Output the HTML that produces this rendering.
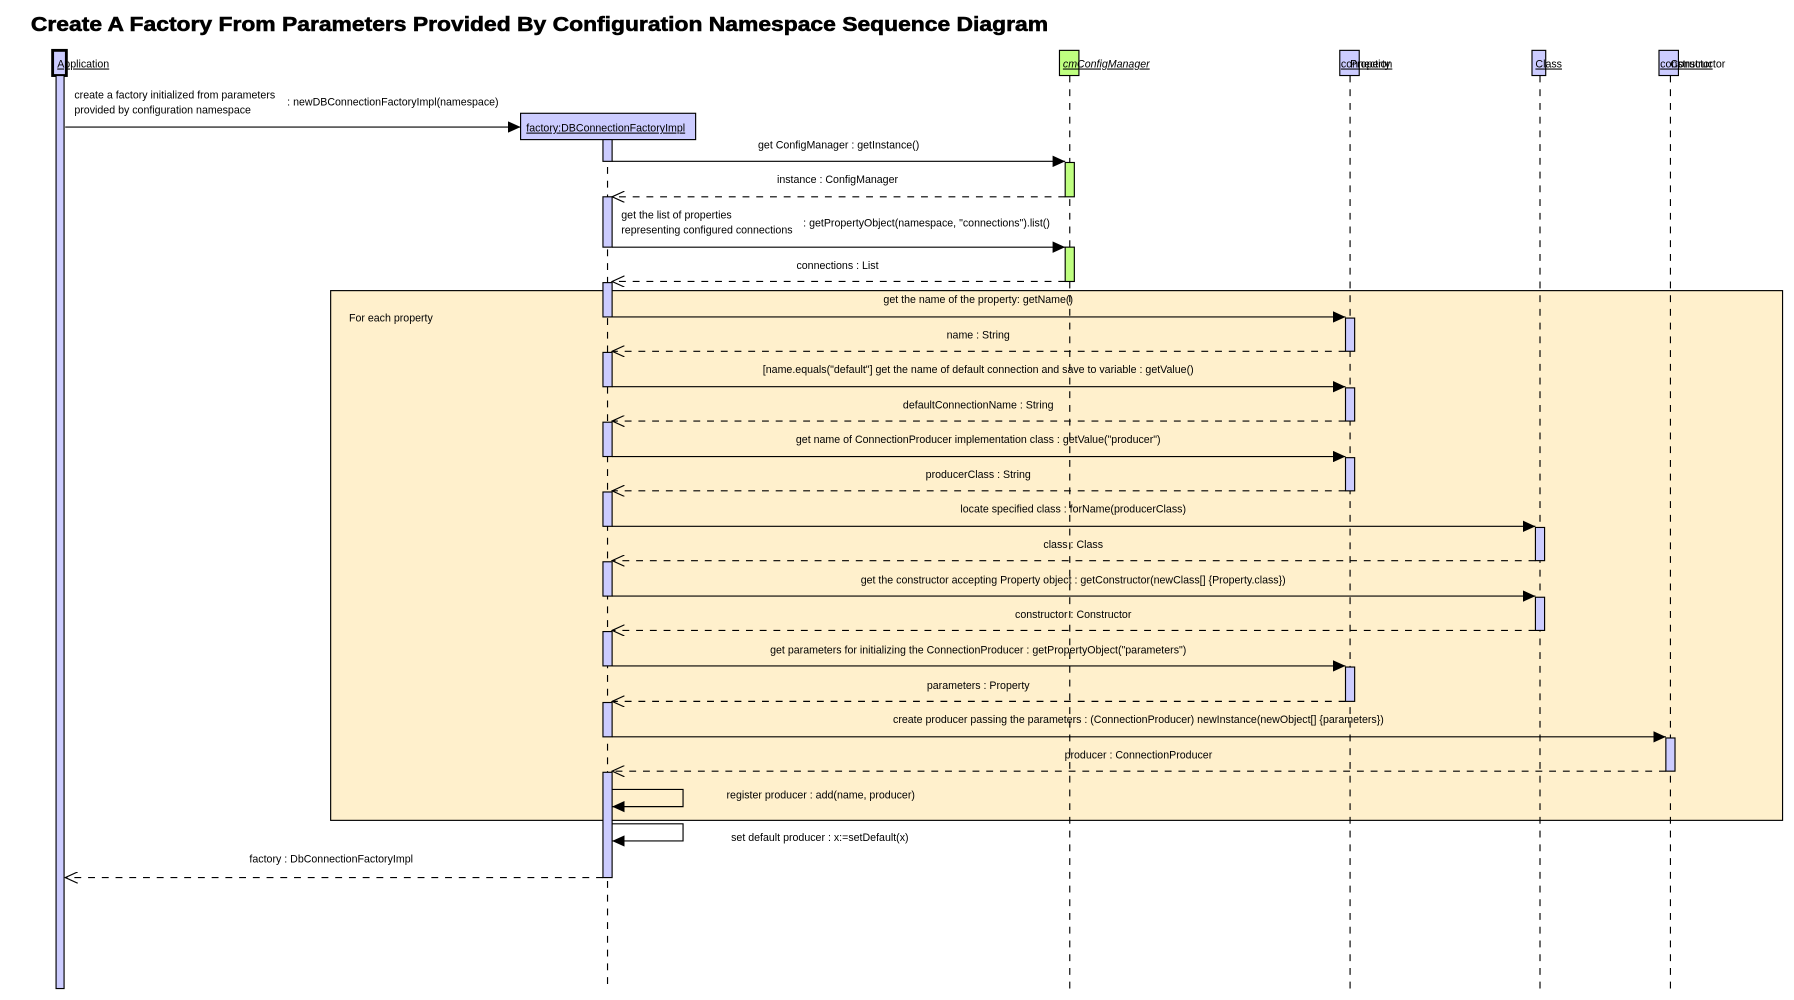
<!DOCTYPE html>
<html><head><meta charset="utf-8"><style>
html,body{margin:0;padding:0;background:#fff;}
svg{display:block}
text{font-family:"Liberation Sans",sans-serif;font-size:9.3px;fill:#000}
</style></head><body>
<svg width="1794" height="1000" viewBox="0 0 1568 874" xmlns="http://www.w3.org/2000/svg">
<defs>
<marker id="f" markerWidth="12" markerHeight="10" refX="11" refY="5" orient="auto" markerUnits="userSpaceOnUse"><path d="M0,0 L11,5 L0,10 Z" fill="#000"/></marker>
<marker id="o" markerWidth="12" markerHeight="10" refX="11" refY="5" orient="auto" markerUnits="userSpaceOnUse"><path d="M0,0 L11,5 L0,10" fill="none" stroke="#000"/></marker>
</defs>
<text x="27" y="27" textLength="889" lengthAdjust="spacingAndGlyphs" style="font-size:18px;font-weight:bold;font-family:'Liberation Sans',sans-serif;stroke:#000;stroke-width:0.5">Create A Factory From Parameters Provided By Configuration Namespace Sequence Diagram</text>

<!-- loop frame -->
<rect x="289" y="254" width="1269" height="463" fill="#fff0cc" stroke="#000" stroke-width="1"/>
<text x="305" y="281">For each property</text>

<!-- lifelines -->
<g stroke="#000" stroke-dasharray="6,6" stroke-width="1">
<line x1="531" y1="122" x2="531" y2="864"/>
<line x1="935" y1="66" x2="935" y2="864"/>
<line x1="1180" y1="66" x2="1180" y2="864"/>
<line x1="1346" y1="66" x2="1346" y2="864"/>
<line x1="1460" y1="66" x2="1460" y2="864"/>
</g>

<!-- heads -->
<rect x="46" y="44" width="12" height="22" fill="#ccccff" stroke="#000" stroke-width="2.5"/>
<rect x="49" y="66" width="7" height="798" fill="#ccccff" stroke="#000"/>
<text x="50" y="59" text-decoration="underline">Application</text>
<rect x="926" y="44" width="17" height="22" fill="#bfff80" stroke="#000"/>
<text x="929" y="59" text-decoration="underline" font-style="italic">cmConfigManager</text>
<rect x="1171" y="44" width="17" height="22" fill="#ccccff" stroke="#000"/>
<text x="1172" y="59" text-decoration="underline">connection</text>
<text x="1180" y="59">Property</text>
<rect x="1339" y="44" width="12" height="22" fill="#ccccff" stroke="#000"/>
<text x="1342" y="59" text-decoration="underline">Class</text>
<rect x="1450" y="44" width="17" height="22" fill="#ccccff" stroke="#000"/>
<text x="1451" y="59" text-decoration="underline">constructor</text>
<text x="1460" y="59">Constructor</text>
<rect x="455" y="99" width="153" height="23" fill="#ccccff" stroke="#000"/>
<text x="460" y="115" text-decoration="underline">factory:DBConnectionFactoryImpl</text>

<!-- activations -->
<g fill="#ccccff" stroke="#000">
<rect x="527" y="122" width="8" height="19"/>
<rect x="527" y="172" width="8" height="44"/>
<rect x="527" y="247" width="8" height="30"/>
<rect x="527" y="308" width="8" height="30"/>
<rect x="527" y="369" width="8" height="30"/>
<rect x="527" y="430" width="8" height="30"/>
<rect x="527" y="491" width="8" height="30"/>
<rect x="527" y="552" width="8" height="30"/>
<rect x="527" y="614" width="8" height="30"/>
<rect x="527" y="675" width="8" height="92"/>
<rect x="1176" y="278" width="8" height="29"/>
<rect x="1176" y="339" width="8" height="29"/>
<rect x="1176" y="400" width="8" height="29"/>
<rect x="1176" y="583" width="8" height="30"/>
<rect x="1342" y="461" width="8" height="29"/>
<rect x="1342" y="522" width="8" height="29"/>
<rect x="1456" y="645" width="8" height="29"/>
</g>
<g fill="#bfff80" stroke="#000">
<rect x="931" y="142" width="8" height="30"/>
<rect x="931" y="216" width="8" height="30"/>
</g>

<!-- messages -->
<g stroke="#000" stroke-width="1" fill="none">
<line x1="57" y1="111" x2="455" y2="111" marker-end="url(#f)"/>
<line x1="535" y1="141" x2="931" y2="141" marker-end="url(#f)"/>
<line x1="931" y1="172" x2="535" y2="172" stroke-dasharray="6,6" marker-end="url(#o)"/>
<line x1="535" y1="216" x2="931" y2="216" marker-end="url(#f)"/>
<line x1="931" y1="246" x2="535" y2="246" stroke-dasharray="6,6" marker-end="url(#o)"/>
<line x1="535" y1="277" x2="1176" y2="277" marker-end="url(#f)"/>
<line x1="1176" y1="307" x2="535" y2="307" stroke-dasharray="6,6" marker-end="url(#o)"/>
<line x1="535" y1="338" x2="1176" y2="338" marker-end="url(#f)"/>
<line x1="1176" y1="368" x2="535" y2="368" stroke-dasharray="6,6" marker-end="url(#o)"/>
<line x1="535" y1="399" x2="1176" y2="399" marker-end="url(#f)"/>
<line x1="1176" y1="429" x2="535" y2="429" stroke-dasharray="6,6" marker-end="url(#o)"/>
<line x1="535" y1="460" x2="1342" y2="460" marker-end="url(#f)"/>
<line x1="1342" y1="490" x2="535" y2="490" stroke-dasharray="6,6" marker-end="url(#o)"/>
<line x1="535" y1="521" x2="1342" y2="521" marker-end="url(#f)"/>
<line x1="1342" y1="551" x2="535" y2="551" stroke-dasharray="6,6" marker-end="url(#o)"/>
<line x1="535" y1="582" x2="1176" y2="582" marker-end="url(#f)"/>
<line x1="1176" y1="613" x2="535" y2="613" stroke-dasharray="6,6" marker-end="url(#o)"/>
<line x1="535" y1="644" x2="1456" y2="644" marker-end="url(#f)"/>
<line x1="1456" y1="674" x2="535" y2="674" stroke-dasharray="6,6" marker-end="url(#o)"/>
<polyline points="535,690 597,690 597,705 535,705" marker-end="url(#f)"/>
<polyline points="535,720 597,720 597,735 535,735" marker-end="url(#f)"/>
<line x1="527" y1="767" x2="57" y2="767" stroke-dasharray="6,6" marker-end="url(#o)"/>
</g>

<!-- labels -->
<text x="65" y="86">create a factory initialized from parameters</text>
<text x="65" y="99">provided by configuration namespace</text>
<text x="251" y="92">: newDBConnectionFactoryImpl(namespace)</text>
<g text-anchor="middle">
<text x="733" y="130">get ConfigManager : getInstance()</text>
<text x="732" y="160">instance : ConfigManager</text>
<text x="732" y="235">connections : List</text>
<text x="855" y="265">get the name of the property: getName()</text>
<text x="855" y="296">name : String</text>
<text x="855" y="326">[name.equals("default"] get the name of default connection and save to variable : getValue()</text>
<text x="855" y="357">defaultConnectionName : String</text>
<text x="855" y="387">get name of ConnectionProducer implementation class : getValue("producer")</text>
<text x="855" y="418">producerClass : String</text>
<text x="938" y="448">locate specified class : forName(producerClass)</text>
<text x="938" y="479">class : Class</text>
<text x="938" y="510">get the constructor accepting Property object : getConstructor(newClass[] {Property.class})</text>
<text x="938" y="540">constructor : Constructor</text>
<text x="855" y="571">get parameters for initializing the ConnectionProducer : getPropertyObject("parameters")</text>
<text x="855" y="602">parameters : Property</text>
<text x="995" y="632">create producer passing the parameters : (ConnectionProducer) newInstance(newObject[] {parameters})</text>
<text x="995" y="663">producer : ConnectionProducer</text>
</g>
<text x="543" y="191">get the list of properties</text>
<text x="543" y="204">representing configured connections</text>
<text x="702" y="198">: getPropertyObject(namespace, "connections").list()</text>
<text x="635" y="698">register producer : add(name, producer)</text>
<text x="639" y="735">set default producer : x:=setDefault(x)</text>
<text x="218" y="754">factory : DbConnectionFactoryImpl</text>
</svg>
</body></html>
